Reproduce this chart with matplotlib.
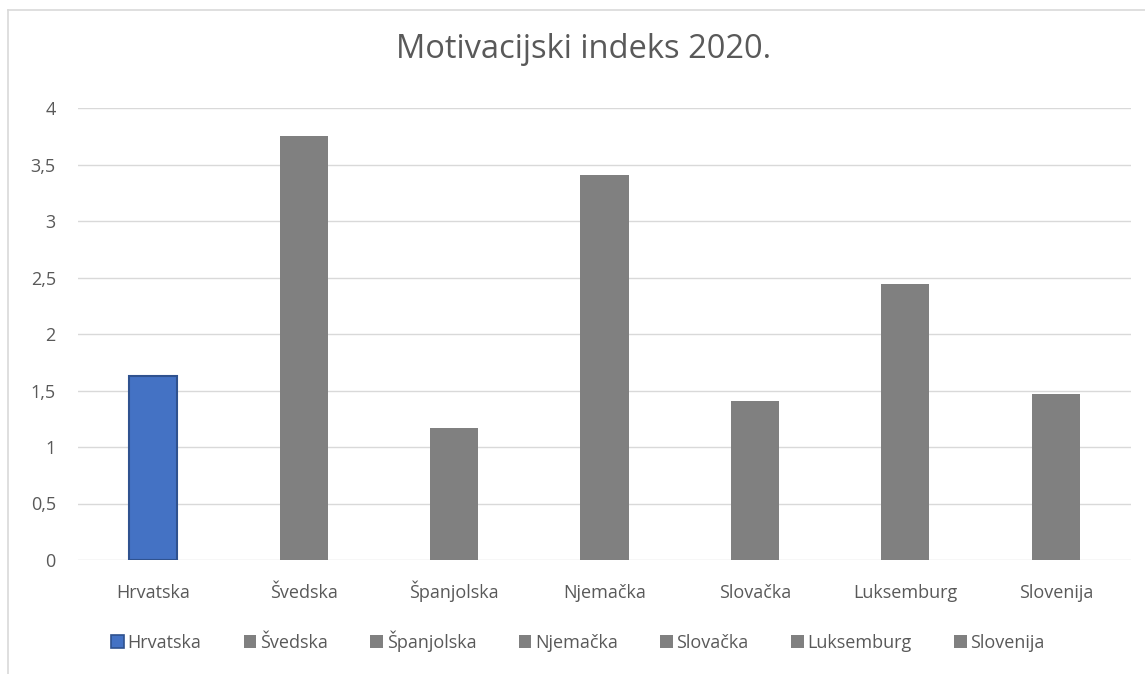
import matplotlib
matplotlib.use("Agg")
import matplotlib.pyplot as plt
from matplotlib.patches import Patch
from matplotlib.lines import Line2D

categories = ["Hrvatska", "Švedska", "Španjolska", "Njemačka", "Slovačka", "Luksemburg", "Slovenija"]
values = [1.63, 3.75, 1.17, 3.41, 1.41, 2.44, 1.47]
colors = ["#4472C4", "#808080", "#808080", "#808080", "#808080", "#808080", "#808080"]
edges = ["#2F528F", "#808080", "#808080", "#808080", "#808080", "#808080", "#808080"]
yticks = [0, 0.5, 1, 1.5, 2, 2.5, 3, 3.5, 4]
ytick_labels = ["0", "0,5", "1", "1,5", "2", "2,5", "3", "3,5", "4"]
title = "Motivacijski indeks 2020."

plt.rcParams['font.family'] = ['Open Sans', 'DejaVu Sans']
W, H = 1145, 674
fig = plt.figure(figsize=(W/100, H/100), dpi=100)
ax = fig.add_axes([78/W, 1-560/H, (1131-78)/W, (560-108)/H])

x = list(range(len(categories)))
for i in x:
    ax.bar(i, values[i], width=0.32, color=colors[i], edgecolor=edges[i],
           linewidth=1.5 if i == 0 else 0, zorder=3)

ax.set_xlim(-0.5, len(categories)-0.5)
ax.set_ylim(0, 4)
ax.set_yticks(yticks)
ax.set_yticklabels(ytick_labels)
ax.set_xticks(x)
ax.set_xticklabels(categories)
ax.grid(axis='y', color='#d9d9d9', linewidth=1, zorder=0)
for s in ax.spines.values():
    s.set_visible(False)
ax.tick_params(axis='both', length=0, labelsize=13, colors='#595959')
ax.tick_params(axis='x', pad=27)
ax.tick_params(axis='y', pad=16)
for lab in ax.get_xticklabels():
    lab.set_verticalalignment('baseline')

fig.text(584/W, 1-50/H, title, ha='center', va='center', fontsize=23.5, color='#595959')

handles = [Patch(facecolor=colors[i], edgecolor=edges[i], linewidth=1.2 if i == 0 else 0)
           for i in x]
leg = fig.legend(handles, categories, loc='center', bbox_to_anchor=(578/W, 1-641/H), ncol=7,
                 frameon=False, fontsize=13, handlelength=0.7, handleheight=0.7,
                 handletextpad=0.2, columnspacing=2.35, labelcolor='#595959')

# chart border (left and top visible)
fig.add_artist(Line2D([7.5/W, 7.5/W], [0, 1-9.5/H], color='#d9d9d9', linewidth=1.2))
fig.add_artist(Line2D([7.5/W, 1], [1-9.5/H, 1-9.5/H], color='#d9d9d9', linewidth=1.2))

fig.savefig("out.png", dpi=100)
